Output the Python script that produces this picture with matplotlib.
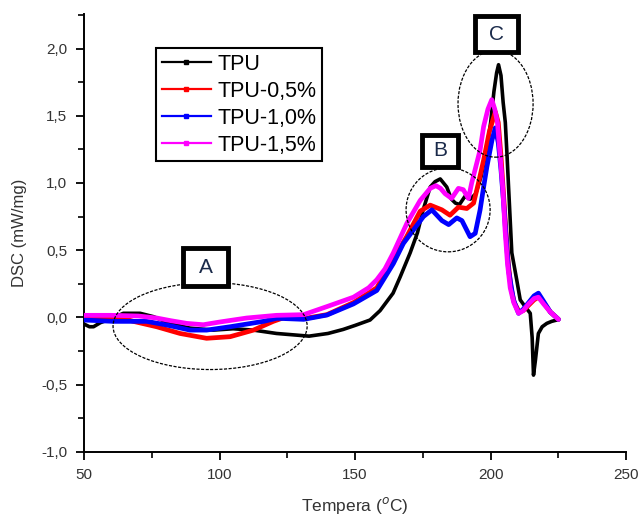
import matplotlib
matplotlib.use("Agg")
import matplotlib.pyplot as plt
from matplotlib.patches import Ellipse, Rectangle
from matplotlib.lines import Line2D
from matplotlib.ticker import MultipleLocator, FuncFormatter

plt.rcParams['font.family'] = ['Liberation Sans', 'DejaVu Sans']

# ---- data ----
tpu_x = [50, 52, 53.5, 56, 60, 64.5, 70.7, 75.6, 81.7, 89, 97.7, 105, 112.5, 121, 133, 140, 145.6,
         150, 155.5, 159.2, 164, 166.6, 170.3, 173, 175.1, 177.7, 179.5, 181.4, 183.8, 185.5, 187,
         188.5, 190.5, 192.5, 194.5, 196.5, 198.5, 200, 201.2, 202.2, 202.9, 203.8, 204.6, 205.4,
         206, 206.6, 207.8, 209.6, 210.9, 212.7, 214.6, 215.3, 215.8, 216.5, 217.6, 219, 220.7,
         222.5, 224.4]
tpu_y = [-0.05, -0.07, -0.07, -0.04, -0.01, 0.03, 0.03, 0.005, -0.045, -0.08, -0.095, -0.085,
         -0.095, -0.12, -0.14, -0.12, -0.09, -0.06, -0.02, 0.05, 0.18, 0.30, 0.48, 0.63, 0.80,
         0.97, 1.01, 1.03, 0.97, 0.88, 0.85, 0.84, 0.90, 0.88, 0.92, 1.05, 1.25, 1.45, 1.68, 1.82,
         1.88, 1.80, 1.60, 1.45, 1.22, 0.97, 0.48, 0.28, 0.13, 0.08, 0.03, -0.15, -0.43, -0.32,
         -0.12, -0.07, -0.045, -0.03, -0.02]

tpu05_x = [50, 60, 65, 68.2, 76.8, 85.4, 95.2, 103.9, 112.5, 119.8, 124, 126, 131, 139.6, 149.4,
           158, 164, 169, 174, 177.7, 182, 185, 188.1, 191.2, 193.7, 195.5, 197.4, 199.5, 201.7,
           202.8, 203.8, 204.7, 205.6, 206.5, 207.5, 208.7, 210.5, 212, 214, 216, 217.6, 219.5,
           222, 225]
tpu05_y = [0.0, 0.0, -0.01, -0.03, -0.07, -0.12, -0.156, -0.144, -0.095, -0.03, 0.0, 0.01, -0.01,
           0.02, 0.11, 0.22, 0.43, 0.60, 0.79, 0.835, 0.80, 0.76, 0.82, 0.81, 0.85, 1.0, 1.17, 1.38,
           1.53, 1.45, 1.2, 0.93, 0.65, 0.40, 0.22, 0.11, 0.04, 0.05, 0.09, 0.13, 0.15, 0.11, 0.04,
           -0.015]

tpu10_x = [50, 60.8, 73.1, 80.5, 89.1, 95.2, 103.9, 116.2, 121.1, 131, 139.6, 149.4, 158, 164.1,
           167.8, 171.5, 175.2, 178.3, 182, 184.5, 187.5, 189.4, 192.4, 194.3, 196.1, 197.4, 198.6,
           200.5, 201.7, 202.8, 203.8, 204.7, 205.6, 206.6, 208.4, 210.3, 212, 214, 216, 217.6,
           219.5, 222, 225]
tpu10_y = [-0.02, -0.03, -0.03, -0.057, -0.095, -0.095, -0.07, -0.03, -0.007, -0.015, 0.017, 0.10,
           0.20, 0.40, 0.55, 0.65, 0.75, 0.80, 0.72, 0.69, 0.74, 0.72, 0.60, 0.625, 0.80, 0.97,
           1.12, 1.32, 1.41, 1.30, 1.10, 0.87, 0.62, 0.35, 0.13, 0.03, 0.06, 0.11, 0.16, 0.18, 0.12,
           0.04, -0.015]

tpu15_x = [50, 60, 70, 76.8, 82, 87.9, 94, 100, 110, 121, 131, 139.6, 149.4, 155, 158, 161, 164.1,
           169.1, 174, 177.7, 179.8, 181.5, 183.2, 185.6, 188.1, 189.9, 191.8, 193, 194.9, 196.1,
           197.4, 199, 200.4, 201.5, 202.5, 203.5, 204.5, 205.3, 206.2, 207.2, 208.5, 210.3, 212,
           214, 216, 217.6, 219.5, 222, 225]
tpu15_y = [0.015, 0.015, 0.01, -0.005, -0.025, -0.045, -0.055, -0.035, -0.005, 0.015, 0.02, 0.08,
           0.15, 0.22, 0.28, 0.36, 0.48, 0.70, 0.87, 0.96, 0.98, 0.96, 0.92, 0.885, 0.96, 0.95,
           0.885, 1.0, 1.15, 1.245, 1.42, 1.55, 1.62, 1.55, 1.45, 1.2, 0.95, 0.65, 0.40, 0.22,
           0.11, 0.03, 0.05, 0.10, 0.14, 0.15, 0.10, 0.04, -0.015]

series_labels = ['TPU', 'TPU-0,5%', 'TPU-1,0%', 'TPU-1,5%']
series_colors = ['#000000', '#FF0000', '#0000FF', '#FF00FF']

x_ticks = [50, 100, 150, 200, 250]
y_ticks = [-1.0, -0.5, 0.0, 0.5, 1.0, 1.5, 2.0]

# ---- figure ----
fig = plt.figure(figsize=(6.39, 5.21), dpi=100)
ax = fig.add_axes([0.1315, 0.133, 0.8485, 0.840])

series = [(tpu_x, tpu_y), (tpu05_x, tpu05_y), (tpu10_x, tpu10_y), (tpu15_x, tpu15_y)]
for i, (xs, ys) in enumerate(series):
    lw = 2.6 if i == 0 else 3.4
    ax.plot(xs, ys, color=series_colors[i], lw=lw, solid_joinstyle='round',
            solid_capstyle='round', zorder=3 + i)

ax.set_xlim(50, 250)
ax.set_ylim(-1.0, 2.257)
ax.set_xticks(x_ticks)
ax.set_yticks(y_ticks)
ax.xaxis.set_minor_locator(MultipleLocator(25))
ax.yaxis.set_minor_locator(MultipleLocator(0.25))
ax.yaxis.set_major_formatter(FuncFormatter(lambda v, p: f"{v:.1f}".replace('.', ',')))
ax.xaxis.set_major_formatter(FuncFormatter(lambda v, p: f"{v:.0f}"))

for s in ['top', 'right']:
    ax.spines[s].set_visible(False)
for s in ['left', 'bottom']:
    ax.spines[s].set_linewidth(1.4)
ax.tick_params(which='major', direction='out', length=6, width=1.3, labelsize=11,
               labelcolor='#333333', pad=6)
ax.tick_params(which='minor', direction='out', length=4, width=1.2)

ax.set_xlabel('Tempera ($^{o}$C)', fontsize=12.5, color='#333333', labelpad=9)
ax.set_ylabel('DSC (mW/mg)', fontsize=12, color='#333333', labelpad=10)

handles = [Line2D([], [], color=c, lw=1.6, marker='s', ms=3.5) for c in series_colors]
leg = ax.legend(handles, series_labels, loc='upper left', bbox_to_anchor=(0.133, 0.922),
                fontsize=15.5, frameon=True, fancybox=False, edgecolor='black', framealpha=1,
                handlelength=2.3, handletextpad=0.3, borderpad=0.25, labelspacing=0.28,
                borderaxespad=0, numpoints=1)
leg.get_frame().set_linewidth(1.5)
leg.set_zorder(20)

# ---- annotations: ellipses and boxed labels ----
ellipses = [(96.5, -0.065, 71.6, 0.647), (184.3, 0.80, 31.0, 0.625), (201.8, 1.59, 27.7, 0.796)]
for cx, cy, w, h in ellipses:
    ax.add_patch(Ellipse((cx, cy), w, h, fill=False, ec='black', lw=0.9,
                         ls=(0, (2.5, 1.2)), zorder=10))

boxes = [('A', 94.8, 0.374, 16.6, 0.283), ('B', 181.4, 1.238, 13.3, 0.238),
         ('C', 202.2, 2.108, 15.9, 0.268)]
for lab, cx, cy, w, h in boxes:
    ax.add_patch(Rectangle((cx - w / 2, cy - h / 2), w, h, fill=True, fc='white',
                           ec='black', lw=3.5, zorder=11, clip_on=False))
    ax.text(cx, cy, lab, ha='center', va='center', fontsize=15, color='#1a2a4a', zorder=12)

fig.savefig('out.png', dpi=100)
